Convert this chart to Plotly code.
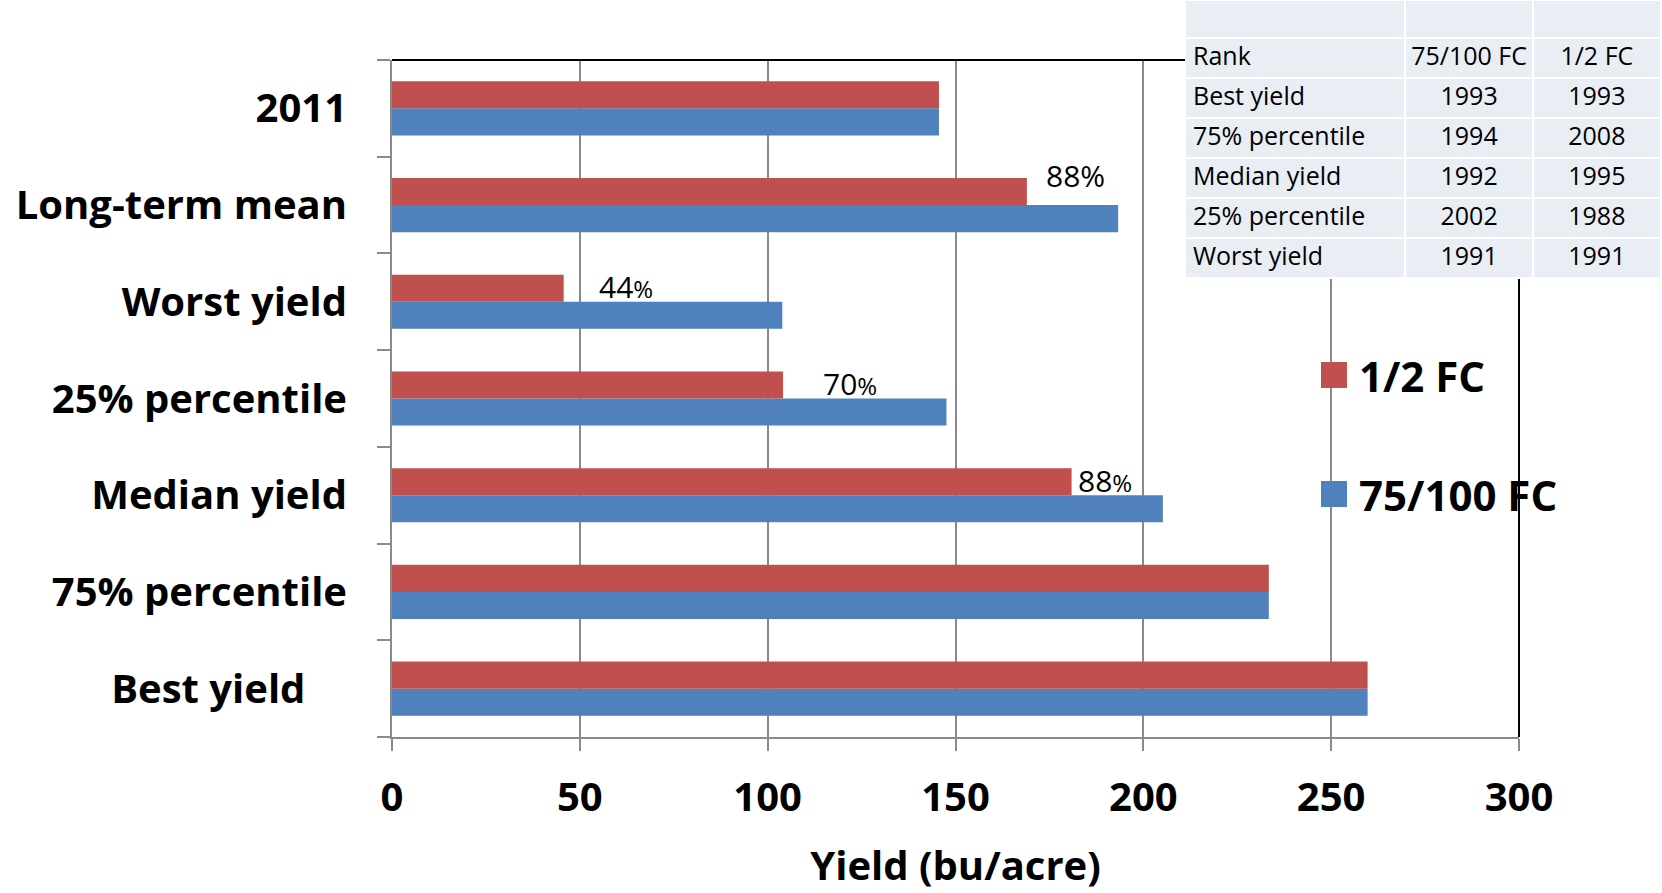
import plotly.graph_objects as go

W, H = 1662, 893

# ---------------- data ----------------
categories = ["Best yield", "75% percentile", "Median yield", "25% percentile",
              "Worst yield", "Long-term mean", "2011"]
category_ticktext = ["Best yield\u00a0\u00a0\u00a0\u00a0", "75% percentile", "Median yield",
                     "25% percentile", "Worst yield", "Long-term mean", "2011"]
yield_half_fc = [259.7, 233.4, 180.9, 104.1, 45.7, 169.0, 145.6]
yield_full_fc = [259.7, 233.4, 205.2, 147.6, 103.9, 193.3, 145.6]

pct_categories = ["Long-term mean", "Worst yield", "25% percentile", "Median yield"]
pct_labels = ["88%", "44%", "70%", "88%"]

table_rank = ["Rank", "Best yield", "75% percentile", "Median yield", "25% percentile", "Worst yield"]
table_full_fc = ["75/100\u00a0FC", "1993", "1994", "1992", "2002", "1991"]
table_half_fc = ["1/2\u00a0FC", "1993", "2008", "1995", "1988", "1991"]

x_ticks = [0, 50, 100, 150, 200, 250, 300]

# ---------------- style ----------------
RED = "#C0504D"
BLUE = "#4F81BD"
GRID = "#8a8a8a"
FONT = "Open Sans"

def px(x):
    return x / W

def py(y):
    return 1 - y / H

PLOT_L, PLOT_R, PLOT_T, PLOT_B = 392, 1519, 60, 737
TABLE_L, TABLE_B = 1185, 279

fig = go.Figure()

fig.add_trace(go.Bar(y=categories, x=yield_full_fc, orientation="h", name="75/100 FC",
                     marker=dict(color=BLUE, line=dict(width=0)), showlegend=False))
fig.add_trace(go.Bar(y=categories, x=yield_half_fc, orientation="h", name="1/2 FC",
                     marker=dict(color=RED, line=dict(width=0)), showlegend=False))

# percentage labels next to the 1/2 FC bars
label_dx = [17, 33, 38, 4]
label_dy = [30, 15, 15, 15]
half_lookup = dict(zip(categories, yield_half_fc))
annotations = []
for i, (cat, lab) in enumerate(zip(pct_categories, pct_labels)):
    num = lab.rstrip("%")
    if i == 0:
        txt = lab
    else:
        txt = num + "<span style='font-size:24px'>%</span>"
    annotations.append(dict(x=half_lookup[cat], y=cat, xref="x", yref="y", text=txt,
                            showarrow=False, xanchor="left", yanchor="middle",
                            xshift=label_dx[i], yshift=label_dy[i],
                            font=dict(family=FONT, size=30, color="black")))

# custom legend (large squares)
legend_items = [("1/2 FC", RED, 375), ("75/100 FC", BLUE, 494)]
shapes = []
for name, col, yc in legend_items:
    shapes.append(dict(type="rect", xref="paper", yref="paper",
                       x0=px(1321), x1=px(1347), y0=py(yc + 13), y1=py(yc - 13),
                       fillcolor=col, line=dict(width=0)))
    annotations.append(dict(x=px(1357), y=py(yc), xref="paper", yref="paper", text=name,
                            showarrow=False, xanchor="left", yanchor="middle",
                            font=dict(family=FONT, size=42, color="black", weight="bold")))

# black frame segments (top and right)
shapes.append(dict(type="line", xref="paper", yref="paper", x0=px(PLOT_L), x1=px(TABLE_L),
                   y0=py(PLOT_T), y1=py(PLOT_T), line=dict(color="black", width=2)))
shapes.append(dict(type="line", xref="paper", yref="paper", x0=px(PLOT_R), x1=px(PLOT_R),
                   y0=py(TABLE_B), y1=py(PLOT_B), line=dict(color="black", width=2)))

# table
fig.add_trace(go.Table(
    domain=dict(x=[px(TABLE_L), 1], y=[py(TABLE_B + 2), 1]),
    columnwidth=[220, 127, 128],
    header=dict(values=["", "", ""], height=38, fill_color="#E9EDF4",
                line=dict(color="white", width=2)),
    cells=dict(values=[table_rank, table_full_fc, table_half_fc], height=40,
               fill_color="#E9EDF4", line=dict(color="white", width=2),
               align=["left", "center", "center"],
               font=dict(family=FONT, size=25, color="black")),
))

fig.update_layout(
    width=W, height=H,
    margin=dict(l=0, r=0, t=0, b=0),
    paper_bgcolor="white", plot_bgcolor="white",
    barmode="group", bargap=0.44, bargroupgap=0,
    showlegend=False,
    xaxis=dict(domain=[px(PLOT_L), px(PLOT_R)], range=[0, 300], tickvals=x_ticks,
               showgrid=True, gridcolor=GRID, gridwidth=1.5, zeroline=False,
               showline=True, linecolor=GRID, linewidth=2,
               ticks="outside", ticklen=12, tickwidth=2, tickcolor=GRID,
               ticklabelstandoff=12,
               tickfont=dict(family=FONT, size=40, color="black", weight="bold"),
               title=dict(text="Yield (bu/acre)", standoff=30,
                          font=dict(family=FONT, size=40, color="black", weight="bold")),
               automargin=False),
    yaxis=dict(domain=[py(PLOT_B), py(PLOT_T)], type="category",
               categoryorder="array", categoryarray=categories,
               tickvals=categories, ticktext=category_ticktext,
               tickson="boundaries", ticks="outside", ticklen=13, tickwidth=2, tickcolor=GRID,
               showline=True, linecolor=GRID, linewidth=2, showgrid=False, zeroline=False,
               ticklabelstandoff=35,
               tickfont=dict(family=FONT, size=40, color="black", weight="bold"),
               automargin=False),
    annotations=annotations,
    shapes=shapes,
)

fig.write_html("out.html")
